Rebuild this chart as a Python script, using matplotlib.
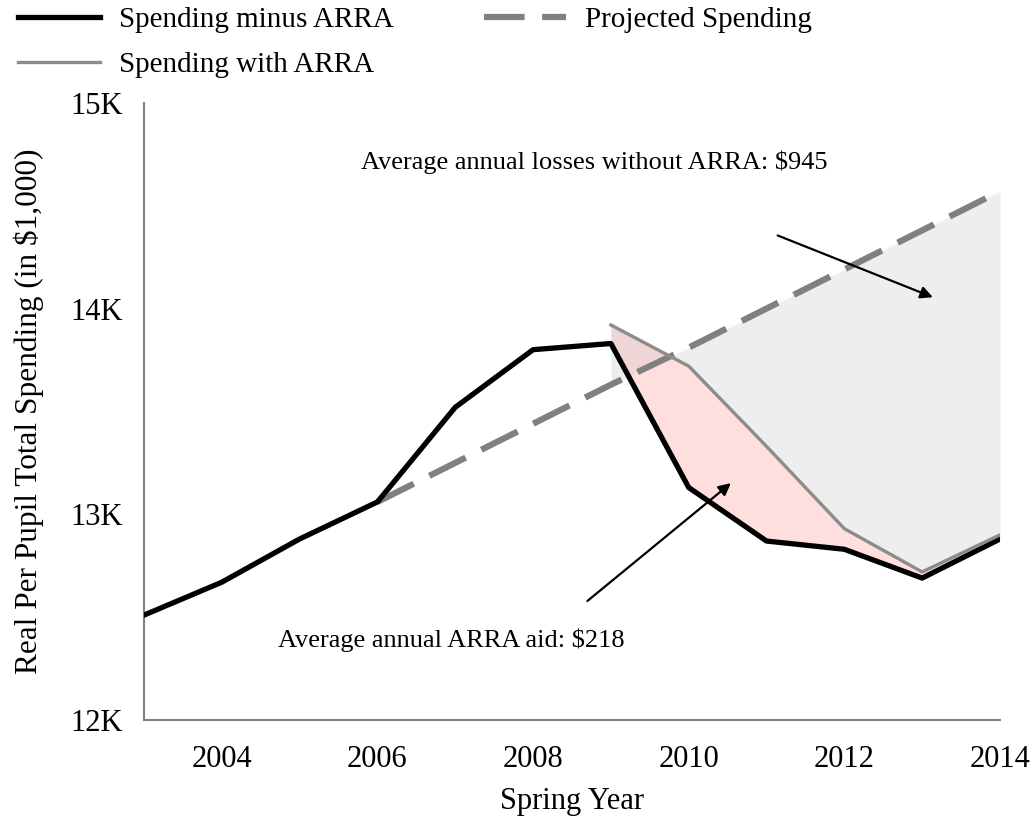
"""ARRA spending chart: real per pupil spending with and without ARRA aid."""

import matplotlib
import matplotlib.pyplot as plt
from matplotlib.ticker import FuncFormatter

matplotlib.use("Agg")

years = [2003, 2004, 2005, 2006, 2007, 2008, 2009, 2010, 2011, 2012, 2013, 2014]
spending_minus_arra = [12.51, 12.67, 12.88, 13.06, 13.52, 13.80, 13.83, 13.13, 12.87, 12.83, 12.69, 12.88]

arra_years = [2009, 2010, 2011, 2012, 2013, 2014]
spending_with_arra = [13.92, 13.72, 13.33, 12.93, 12.72, 12.90]

proj_years = [2006, 2007, 2008, 2009, 2010, 2011, 2012, 2013, 2014]
projected = [13.06, 13.25, 13.44, 13.63, 13.81, 14.00, 14.19, 14.38, 14.57]

minus_after = spending_minus_arra[6:]
proj_after = projected[3:]

plt.rcParams["font.family"] = ["Liberation Serif", "DejaVu Serif"]

fig = plt.figure(figsize=(10.32, 8.22), dpi=100)
ax = fig.add_axes([0.1395, 0.124, 0.8295, 0.751])

ax.fill_between(arra_years, minus_after, spending_with_arra, color="#ffdede", lw=0, zorder=1)
ax.fill_between(arra_years, proj_after, spending_with_arra, color="#bfbfbf", alpha=0.25, lw=0, zorder=2)

ax.plot(years, spending_minus_arra, color="black", lw=3.8, label="Spending minus ARRA", zorder=4)
ax.plot(arra_years, spending_with_arra, color="#8c8c8c", lw=2.4, label="Spending with ARRA", zorder=5)
ax.plot(proj_years, projected, color="#808080", lw=4.5, dashes=(6.5, 2.8), label="Projected Spending", zorder=3)

ax.annotate("", xy=(2013.17, 14.05), xytext=(2011.11, 14.36),
            arrowprops=dict(arrowstyle="-|>", color="black", lw=1.6, mutation_scale=18))
ax.annotate("", xy=(2010.57, 13.16), xytext=(2008.67, 12.57),
            arrowprops=dict(arrowstyle="-|>", color="black", lw=1.6, mutation_scale=18))
ax.text(2008.78, 14.71, "Average annual losses without ARRA: $945", ha="center", va="center", fontsize=19)
ax.text(2006.95, 12.39, "Average annual ARRA aid: $218", ha="center", va="center", fontsize=19)

ax.set_xlim(2003, 2014)
ax.set_ylim(12, 15)
ax.set_xticks([2004, 2006, 2008, 2010, 2012, 2014])
ax.set_yticks([12, 13, 14, 15])
ax.yaxis.set_major_formatter(FuncFormatter(lambda v, _: f"{int(v)}K"))
ax.tick_params(length=0, labelsize=22)
ax.tick_params(axis="x", pad=18)
ax.tick_params(axis="y", pad=15)

for side in ["top", "right"]:
    ax.spines[side].set_visible(False)
for side in ["left", "bottom"]:
    ax.spines[side].set_color("#808080")
    ax.spines[side].set_linewidth(1.5)

ax.set_xlabel("Spring Year", fontsize=22, labelpad=9)
ax.set_ylabel("Real Per Pupil Total Spending (in $1,000)", fontsize=22.5, labelpad=19)

ax.legend(loc="upper left", bbox_to_anchor=(-0.147, 1.155), ncol=2, frameon=False, fontsize=21,
          handlelength=2.8, columnspacing=3.1, labelspacing=0.62, handletextpad=0.65,
          borderaxespad=0.0, borderpad=0.0)

fig.savefig("out.png", dpi=100)
plt.close(fig)
